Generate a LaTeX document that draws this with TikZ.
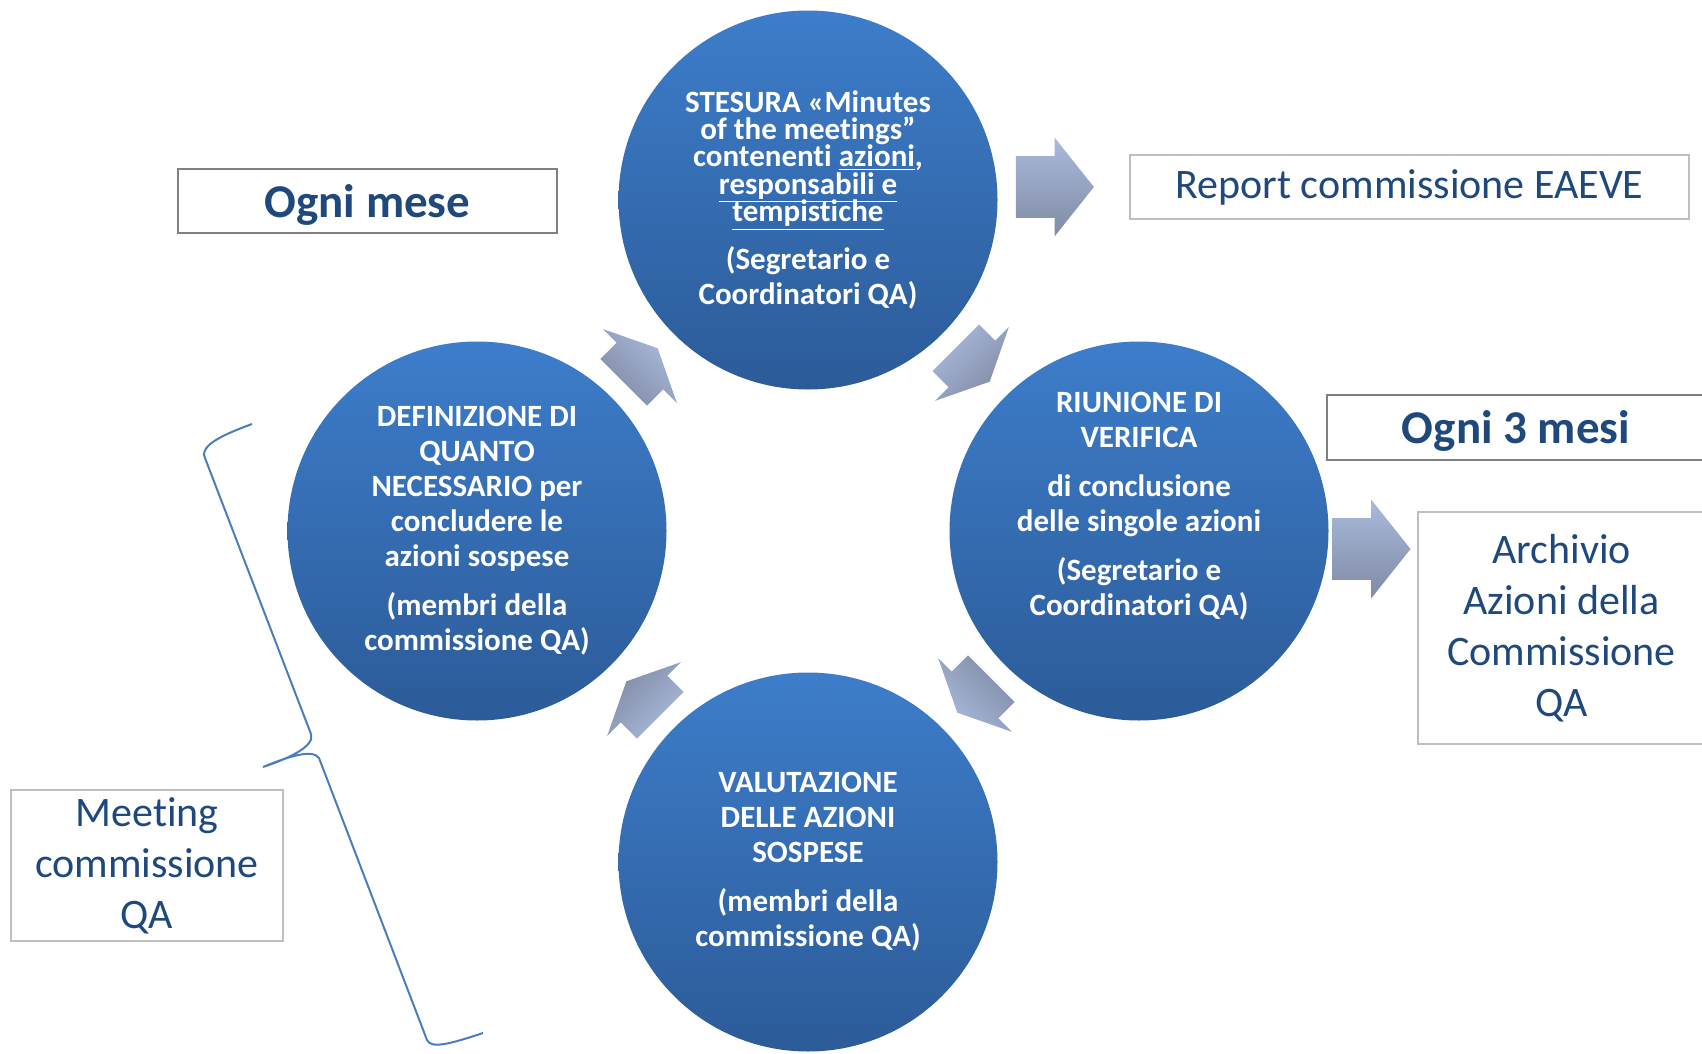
\documentclass[tikz,border=0pt]{standalone}
\usepackage{fontspec}
\setmainfont[Ligatures={TeX,NoCommon}]{Carlito}
\usetikzlibrary{shapes.arrows,positioning}
\definecolor{phasetop}{RGB}{61,125,202}
\definecolor{phasebot}{RGB}{44,91,152}
\definecolor{arrtop}{RGB}{170,186,220}
\definecolor{arrbot}{RGB}{128,139,165}
\definecolor{darkblue}{RGB}{31,73,125}
\definecolor{bracecol}{RGB}{74,126,187}
\definecolor{boxgray}{RGB}{128,128,128}
\definecolor{boxlight}{RGB}{191,191,191}

\begin{document}
\begin{tikzpicture}[x=0.5pt,y=-0.5pt,
		phase/.style={circle, minimum size=189.5pt, inner sep=0pt, top color=phasetop, bottom color=phasebot, text=white, align=center, font={\fontsize{15.5}{17.5}\selectfont\bfseries\lineskiplimit=-20pt}},
		cyc/.style={single arrow, minimum height=24pt, single arrow head extend=9.75pt, single arrow tip angle=128.7, inner xsep=0pt, inner ysep=16.25pt, top color=arrtop, bottom color=arrbot},
		bigarr/.style={single arrow, minimum height=39pt, single arrow head extend=9.25pt, single arrow tip angle=103, inner xsep=0pt, inner ysep=15.25pt, top color=arrtop, bottom color=arrbot},
		headbox/.style={draw=boxgray, line width=1pt, text=darkblue, inner sep=0pt, text depth=0pt, font={\fontsize{23.5}{28}\selectfont\bfseries}},
		outbox/.style={draw=boxlight, line width=0.6pt, text=darkblue, inner sep=0pt, align=center, font={\fontsize{21}{25.5}\selectfont}}
	]
		\useasboundingbox (0,0) rectangle (1702,1054);

		\node[phase, font={\fontsize{15.5}{13.6}\selectfont\bfseries\lineskiplimit=-20pt}] (stesura) at (808,200) {STESURA «Minutes\\ of the meetings”\\ contenenti \underline{azioni},\\ \underline{responsabili e}\\ \underline{tempistiche}\\[10.6pt] (Segretario e\\[3.9pt] Coordinatori QA)};
		\node[phase] (verifica) at (1139,531) {RIUNIONE DI\\ VERIFICA\\[7pt] di conclusione\\ delle singole azioni\\[7pt] (Segretario e\\ Coordinatori QA)\\[10pt] \mbox{}};
		\node[phase] (valutaz) at (808,862) {VALUTAZIONE\\ DELLE AZIONI\\ SOSPESE\\[7pt] (membri della\\ commissione QA)};
		\node[phase] (defin) at (477,531) {DEFINIZIONE DI\\ QUANTO\\ NECESSARIO per\\ concludere le\\ azioni sospese\\[7pt] (membri della\\ commissione QA)};

		\node[cyc, rotate=45, shading angle=-45, anchor=tip] (a1) at (658,348) {};
		\node[cyc, rotate=-45, shading angle=45, anchor=tip] (a2) at (990,382) {};
		\node[cyc, rotate=-135, shading angle=135, anchor=tip] (a3) at (957,713) {};
		\node[cyc, rotate=135, shading angle=-135, anchor=tip] (a4) at (626,681) {};

		\node[headbox, minimum width=189.5pt, minimum height=32pt] (mese) at (367.5,201) {Ogni mese};
		\node[outbox, minimum width=279.5pt, minimum height=32pt] (report) at (1409.5,187) {Report commissione EAEVE};
		\node[headbox, minimum width=189pt, minimum height=32.5pt] (trimestre) at (1516,427.5) {Ogni 3 mesi};
		\node[outbox, minimum width=143.5pt, minimum height=116pt] (archivio) at (1561.5,628) {Archivio\\ Azioni della\\ Commissione\\ QA};
		\node[outbox, minimum width=136pt, minimum height=75.5pt] (meeting) at (147,865.5) {Meeting\\ commissione\\ QA};

		\node[bigarr, anchor=tip] (arrreport) at ([xshift=-17.5pt]report.west) {};
		\node[bigarr, anchor=tip] (arrarchivio) at (1411,549) {};

		\draw[bracecol, line width=1pt] (252,424) .. controls (225,434) and (199,445) .. (205,458) -- (311,734) .. controls (315,746) and (290,758) .. (263,767) .. controls (285,758) and (312,748) .. (319,758) -- (427,1040) .. controls (431,1049) and (450,1044) .. (483,1033);
	\end{tikzpicture}
\end{document}
